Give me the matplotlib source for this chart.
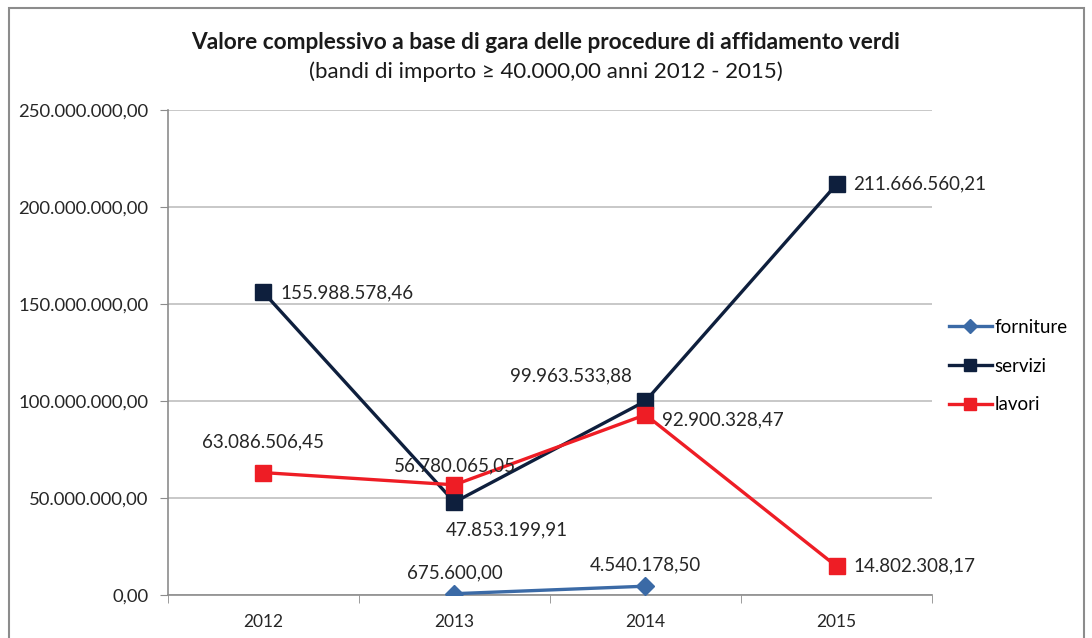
import matplotlib.pyplot as plt
from matplotlib.patches import Rectangle

years = ['2012', '2013', '2014', '2015']
forniture = [None, 675600.00, 4540178.50, None]
servizi = [155988578.46, 47853199.91, 99963533.88, 211666560.21]
lavori = [63086506.45, 56780065.05, 92900328.47, 14802308.17]


def fmt_it(v):
    s = "{:,.2f}".format(v)
    return s.replace(",", "X").replace(".", ",").replace("X", ".")


plt.rcParams['font.family'] = ['Lato', 'DejaVu Sans']

fig = plt.figure(figsize=(10.92, 6.38), dpi=100)
ax = fig.add_axes([0.1538, 0.0674, 0.6997, 0.7602])

# border round the chart
fig.patches.append(Rectangle((0.008, -0.05), 0.985, 1.037, transform=fig.transFigure,
                             fill=False, edgecolor='#8c8c8c', linewidth=1.5))

x = list(range(len(years)))
c_forn = '#3b6aa6'
c_serv = '#0e1f3d'
c_lav = '#ee1d25'

fx = [i for i, v in enumerate(forniture) if v is not None]
fy = [v for v in forniture if v is not None]
ax.plot(fx, fy, color=c_forn, lw=2.4, marker='D', ms=9, label='forniture', zorder=3)
ax.plot(x, servizi, color=c_serv, lw=2.4, marker='s', ms=12, label='servizi', zorder=4)
ax.plot(x, lavori, color=c_lav, lw=2.4, marker='s', ms=12, label='lavori', zorder=5)

lab_fs = 13.5
# servizi labels
serv_off = [(12, 0, 'left', 'center'), (-6, -20, 'left', 'center'),
            (-10, 18, 'right', 'center'), (12, 0, 'left', 'center')]
for i, v in enumerate(servizi):
    dx, dy, ha, va = serv_off[i]
    ax.annotate(fmt_it(v), (x[i], v), xytext=(dx, dy), textcoords='offset points',
                ha=ha, va=va, fontsize=lab_fs, color='#262626', zorder=6)
lav_off = [(0, 22, 'center', 'center'), (0, 14, 'center', 'center'),
           (12, -4, 'left', 'center'), (12, 0, 'left', 'center')]
for i, v in enumerate(lavori):
    dx, dy, ha, va = lav_off[i]
    ax.annotate(fmt_it(v), (x[i], v), xytext=(dx, dy), textcoords='offset points',
                ha=ha, va=va, fontsize=lab_fs, color='#262626', zorder=6)
for xi, v in zip(fx, fy):
    ax.annotate(fmt_it(v), (xi, v), xytext=(0, 15), textcoords='offset points',
                ha='center', va='center', fontsize=lab_fs, color='#262626', zorder=6)

ax.set_xlim(-0.5, 3.5)
ax.set_ylim(0, 250000000)
yt = [0, 50000000, 100000000, 150000000, 200000000, 250000000]
ax.set_yticks(yt)
ax.set_yticklabels([fmt_it(v) for v in yt], fontsize=13.3, color='#262626')
ax.set_xticks(x)
ax.set_xticklabels(years, fontsize=12.5, color='#262626')
ax.set_xticks([-0.5, 0.5, 1.5, 2.5, 3.5], minor=True)
ax.tick_params(axis='x', which='major', length=0, pad=14)
ax.tick_params(axis='x', which='minor', length=6, color='#8c8c8c', direction='out')
ax.tick_params(axis='y', length=6, color='#8c8c8c', direction='out', pad=8)
ax.grid(axis='y', color='#bfbfbf', lw=1.2)
ax.set_axisbelow(True)
for s in ['top', 'right']:
    ax.spines[s].set_visible(False)
ax.spines['left'].set_color('#8c8c8c')
ax.spines['bottom'].set_color('#8c8c8c')
ax.spines['left'].set_linewidth(1.2)
ax.spines['bottom'].set_linewidth(1.2)

fig.text(0.5, 0.934, 'Valore complessivo a base di gara delle procedure di affidamento verdi',
         ha='center', va='center', fontsize=16.3, fontweight='bold', color='#1a1a1a')
fig.text(0.5, 0.887, '(bandi di importo \u2265 40.000,00 anni 2012 - 2015)',
         ha='center', va='center', fontsize=16, color='#1a1a1a')

ax.legend(loc='center left', bbox_to_anchor=(1.0, 0.472), frameon=False, fontsize=13.5,
          handlelength=2.3, handletextpad=0.15, labelspacing=1.15, markerscale=0.75)

fig.savefig('out.png', dpi=100)
